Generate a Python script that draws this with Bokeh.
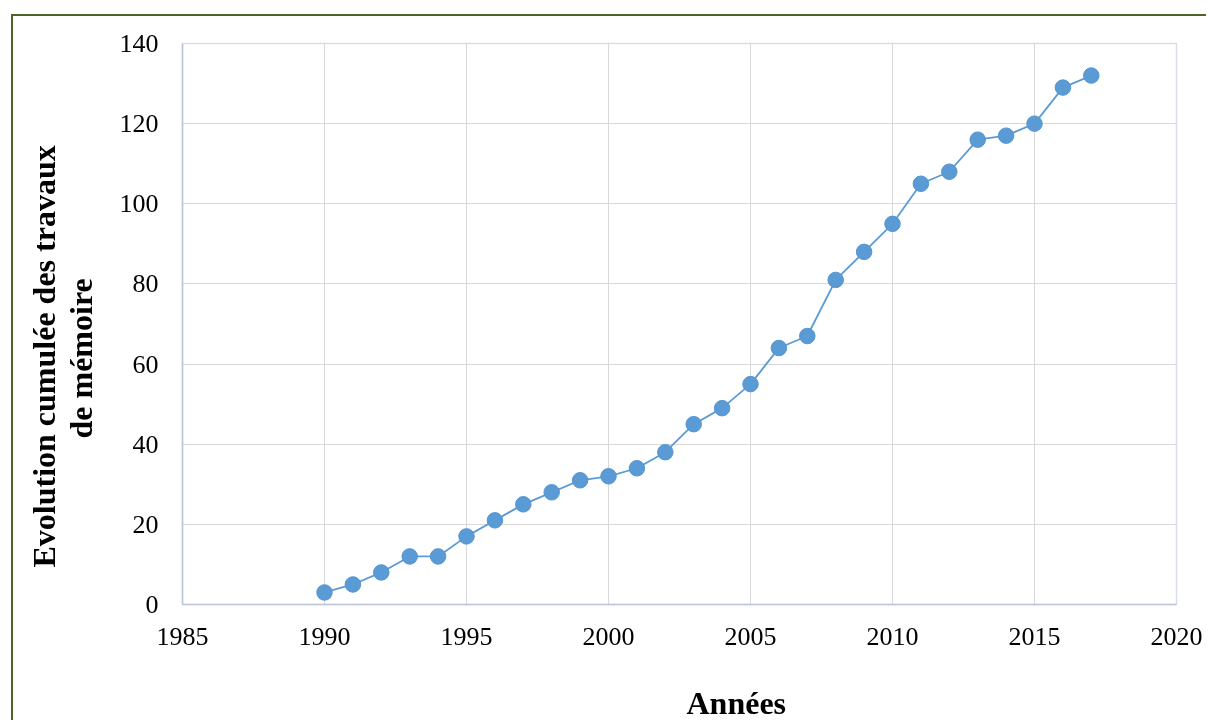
from bokeh.plotting import figure
from bokeh.models import Range1d, Title, FixedTicker
from bokeh.embed import file_html
from bokeh.resources import INLINE

years = [1990, 1991, 1992, 1993, 1994, 1995, 1996, 1997, 1998, 1999, 2000,
         2001, 2002, 2003, 2004, 2005, 2006, 2007, 2008, 2009, 2010, 2011,
         2012, 2013, 2014, 2015, 2016, 2017]
cumul = [3, 5, 8, 12, 12, 17, 21, 25, 28, 31, 32, 34, 38, 45, 49, 55, 64, 67,
         81, 88, 95, 105, 108, 116, 117, 120, 129, 132]
x_ticks = [1985, 1990, 1995, 2000, 2005, 2010, 2015, 2020]
y_ticks = [0, 20, 40, 60, 80, 100, 120, 140]
x_title = "Années"
y_title_lines = ["Evolution cumulée des travaux", "de mémoire"]

FONT = "Liberation Serif"
BLUE = "#5B9BD5"

p = figure(width=1195, height=706, output_backend="svg", toolbar_location=None,
           x_range=Range1d(1985, 2020), y_range=Range1d(0, 140),
           min_border_left=169, min_border_top=27, min_border_right=32,
           min_border_bottom=118)
p.styles = {"position": "fixed", "left": "11px", "top": "14px",
            "border-left": "2px solid #4F6228", "border-top": "2px solid #4F6228"}

p.line(years, cumul, line_color=BLUE, line_width=1.8)
p.scatter(years, cumul, size=15.5, fill_color=BLUE, line_color="#5595D0", line_width=1)

xax = p.xaxis[0]
yax = p.yaxis[0]
for ax, ticks in ((xax, x_ticks), (yax, y_ticks)):
    ax.ticker = FixedTicker(ticks=ticks)
    ax.major_tick_line_color = None
    ax.minor_tick_line_color = None
    ax.major_label_text_font = FONT
    ax.major_label_text_font_size = "26px"
    ax.major_label_text_color = "black"
    ax.axis_line_color = "#BCC6DA"
    ax.axis_line_width = 1.5
xax.major_label_standoff = 17
yax.major_label_standoff = 18

p.xgrid.grid_line_color = "#D9D9D9"
p.ygrid.grid_line_color = "#D9D9D9"
p.outline_line_color = "#D9DEE6"
p.outline_line_width = 1.5

def make_title(text, offset, standoff, size="32px"):
    return Title(text=text, align="left", offset=offset, standoff=standoff,
                 text_font=FONT, text_font_size=size, text_font_style="bold",
                 text_color="black")

# blank spacer between the tick labels and the x title
p.add_layout(make_title(" ", 0, 22, size="10px"), "below")
p.add_layout(make_title(x_title, 504, 0), "below")
p.add_layout(make_title(y_title_lines[1], 166, 35), "left")
p.add_layout(make_title(y_title_lines[0], 37, -36), "left")

open("out.html", "w").write(file_html(p, INLINE))
